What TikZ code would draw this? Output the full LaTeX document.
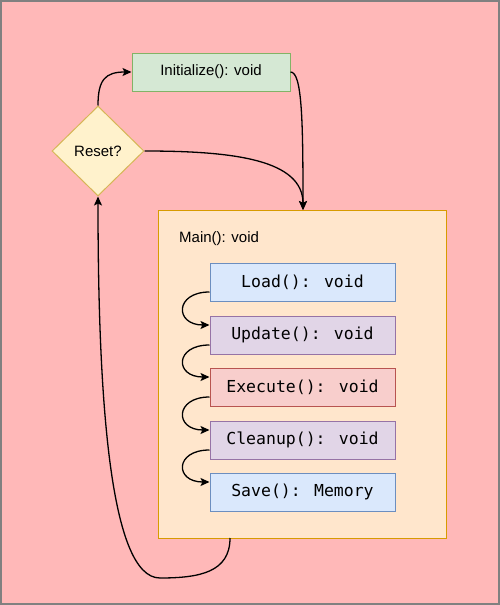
\documentclass[tikz,border=0pt]{standalone}
\usepackage{fontspec}
\setmainfont{Liberation Sans}
\newfontfamily\monofont{DejaVu Sans Mono}
\usetikzlibrary{shapes.geometric,arrows.meta}
\definecolor{bgpink}{HTML}{FFB8B8}
\definecolor{bgborder}{HTML}{808080}
\definecolor{greenfill}{HTML}{D5E8D4}
\definecolor{greenline}{HTML}{82B366}
\definecolor{yellowfill}{HTML}{FFF2CC}
\definecolor{yellowline}{HTML}{D6B656}
\definecolor{orangefill}{HTML}{FFE6CC}
\definecolor{orangeline}{HTML}{D79B00}
\definecolor{bluefill}{HTML}{DAE8FC}
\definecolor{blueline}{HTML}{6C8EBF}
\definecolor{purplefill}{HTML}{E1D5E7}
\definecolor{purpleline}{HTML}{9673A6}
\definecolor{redfill}{HTML}{F8CECC}
\definecolor{redline}{HTML}{B85450}
\tikzset{
  lbl/.style={font=\fontsize{15}{18}\selectfont},
  box/.style={draw, line width=1pt, inner sep=0pt, minimum height=38pt},
  fn/.style={box, minimum width=185pt, font=\monofont\fontsize{16.5}{19}\selectfont},
  bluebox/.style={fn, fill=bluefill, draw=blueline},
  purplebox/.style={fn, fill=purplefill, draw=purpleline},
  redbox/.style={fn, fill=redfill, draw=redline},
  conn/.style={draw=black, line width=1.3pt, -{Stealth[length=9pt,width=8pt,inset=2pt]}},
  plainconn/.style={draw=black, line width=1.3pt}
}
\begin{document}
\begin{tikzpicture}[x=1pt,y=-1pt]
\path[use as bounding box] (0,0) rectangle (500,605);
\fill[bgpink] (0,0) rectangle (500,605);
\draw[bgborder, line width=2pt] (1,1) rectangle (499,604);

% main container
\node[draw=orangeline, fill=orangefill, line width=1pt, minimum width=288pt, minimum height=328pt, inner sep=0pt] (main) at (302,374) {};
\node[lbl, anchor=west, inner sep=0pt] (mainlabel) at (179,239) {Main(): void};

% top nodes
\node[box, lbl, fill=greenfill, draw=greenline, minimum width=158pt] (init) at (211,72) {Initialize(): void};
\node[diamond, lbl, draw=yellowline, fill=yellowfill, line width=1pt, inner sep=0pt, minimum width=92pt, minimum height=90pt] (reset) at (98,151) {Reset?};

% inner function boxes
\node[bluebox] (load) at (302.5,282) {Load(): void};
\node[purplebox] (update) at (302.5,335) {Update(): void};
\node[redbox] (execute) at (302.5,387) {Execute(): void};
\node[purplebox] (cleanup) at (302.5,440) {Cleanup(): void};
\node[bluebox] (save) at (302.5,492) {Save(): Memory};

% chain arrows
\foreach \a/\b in {load/update, update/execute, execute/cleanup, cleanup/save}{
  \draw[conn] ([yshift=-10pt]\a.west) .. controls +(-35,0) and +(-35,0) .. ([yshift=10pt]\b.west);
}

% outer arrows
\coordinate (maintop) at (303,210);
\draw[conn] (reset.north) .. controls (98,80) and (105,72) .. (init.west);
\draw[conn] (init.east) .. controls (302,72) and (303,120) .. (maintop);
\draw[conn] (reset.east) .. controls (235,151) and (303,160) .. (maintop);
\coordinate (bottomturn) at (160,578);
\draw[plainconn] (230,538) .. controls (230,572) and (200,578) .. (bottomturn);
\draw[conn] (bottomturn) .. controls (110,578) and (98,400) .. (reset.south);
\end{tikzpicture}
\end{document}
